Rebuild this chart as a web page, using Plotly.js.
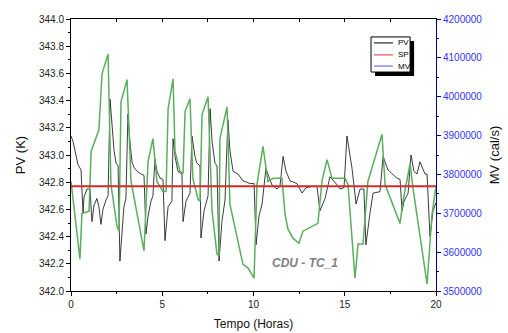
<!DOCTYPE html>
<html>
<head>
<meta charset="utf-8">
<script src="https://cdn.plot.ly/plotly-3.0.1.min.js"></script>
<style>html,body{margin:0;padding:0;background:#fff;}#chart{width:508px;height:333px;}</style>
</head>
<body>
<div id="chart"></div>
<script>
// Time (hours) for PV series
var pvTime = [0, 0.11, 0.38, 0.55, 0.66, 0.71, 0.88, 1.04, 1.15, 1.26,
  1.42, 1.53, 1.64, 1.75, 1.92, 2.03, 2.14, 2.25, 2.36, 2.47,
  2.58, 2.68, 2.79, 2.90, 3.01, 3.12, 3.23, 3.34, 3.45, 3.62,
  3.84, 4.00, 4.11, 4.22, 4.38, 4.49, 4.60, 4.71, 4.88, 5.04,
  5.15, 5.32, 5.53, 5.59, 5.70, 5.86, 6.08, 6.14, 6.30, 6.52,
  6.63, 6.79, 6.90, 7.07, 7.12, 7.29, 7.51, 7.62, 7.73, 7.89,
  8.00, 8.11, 8.27, 8.44, 8.60, 8.71, 8.88, 9.15, 9.42, 9.81,
  10.03, 10.14, 10.30, 10.47, 10.68, 10.79, 11.01, 11.29, 11.45, 11.62,
  11.78, 12.00, 12.38, 12.66, 12.88, 13.26, 13.48, 13.64, 13.92, 14.19,
  14.41, 14.58, 14.74, 14.96, 15.12, 15.40, 15.62, 15.84, 16.05, 16.16,
  16.38, 16.55, 16.93, 17.10, 17.37, 17.86, 18.03, 18.14, 18.25, 18.47,
  18.63, 18.79, 18.96, 19.12, 19.40, 19.51, 19.67, 19.84, 20.00];
// PV (K)
var pvValues = [343.14, 343.10, 342.93, 342.89, 342.57, 342.69, 342.75, 342.75, 342.51, 342.63,
  342.68, 342.62, 342.49, 342.60, 342.67, 342.70, 343.41, 343.21, 343.03, 342.94,
  342.92, 342.22, 342.44, 342.62, 342.68, 343.30, 343.10, 342.95, 342.91, 342.88,
  342.86, 342.85, 342.42, 342.55, 342.66, 342.70, 342.97, 342.88, 342.83, 342.82,
  342.37, 342.62, 342.66, 343.12, 342.99, 342.88, 342.86, 342.51, 342.66, 342.72,
  343.14, 342.99, 342.94, 342.92, 342.39, 342.59, 342.70, 343.34, 343.10, 342.94,
  342.92, 342.22, 342.51, 342.67, 343.26, 343.03, 342.88, 342.86, 342.81, 342.79,
  342.79, 342.34, 342.55, 342.64, 342.90, 342.86, 342.78, 342.75, 342.77, 342.99,
  342.88, 342.81, 342.79, 342.72, 342.76, 342.77, 342.77, 342.59, 342.68, 342.84,
  342.81, 342.78, 342.75, 342.76, 343.14, 342.90, 342.64, 342.75, 342.75, 342.34,
  342.57, 342.72, 342.73, 342.99, 342.89, 342.83, 342.82, 342.59, 342.66, 342.72,
  343.00, 342.88, 342.86, 342.95, 342.86, 342.86, 342.40, 342.59, 342.65];

// Time (hours) for MV series
var mvTime = [0, 0.49, 0.60, 0.99, 1.10, 1.53, 1.70, 2.03, 2.19, 2.52,
  2.63, 2.74, 3.07, 3.29, 4.00, 4.22, 4.49, 4.71, 5.04, 5.21,
  5.32, 5.59, 5.70, 5.97, 6.14, 6.25, 6.52, 6.68, 6.96, 7.07,
  7.18, 7.51, 7.73, 8.00, 8.11, 8.16, 8.55, 8.71, 9.42, 9.70,
  10.03, 10.19, 10.52, 10.79, 11.07, 11.56, 11.73, 11.89, 12.16, 12.49,
  12.71, 13.21, 13.53, 13.75, 14.03, 14.30, 15.01, 15.18, 15.56, 15.73,
  16.00, 16.27, 17.04, 17.21, 18.03, 18.19, 18.58, 18.74, 19.51, 19.78,
  20.00];
// MV (cal/s)
var mvValues = [3782000, 3582000, 3700000, 3705000, 3859000, 3915000, 4059000, 4110000, 3774000, 3667000,
  3654000, 3987000, 4044000, 3782000, 3603000, 3833000, 3892000, 3782000, 3756000, 3756000,
  3969000, 4046000, 3859000, 3808000, 3803000, 3962000, 3995000, 3790000, 3736000, 3731000,
  3954000, 4000000, 3705000, 3595000, 3590000, 3892000, 3974000, 3723000, 3569000, 3559000,
  3533000, 3774000, 3872000, 3782000, 3790000, 3790000, 3697000, 3659000, 3636000, 3623000,
  3654000, 3667000, 3674000, 3782000, 3838000, 3790000, 3790000, 3774000, 3533000, 3621000,
  3621000, 3782000, 3903000, 3774000, 3674000, 3731000, 3828000, 3764000, 3518000, 3697000,
  3769000];

// Setpoint (K)
var spTime = [0, 20];
var spValues = [342.77, 342.77];

var legendNames = ['PV', 'SP', 'MV'];
var legendColors = ['#000000', '#e03030', '#5050ff'];

var FONT = 'Liberation Sans, Arial, Helvetica, sans-serif';

var traces = [
  {x: mvTime, y: mvValues, yaxis: 'y2', type: 'scatter', mode: 'lines',
   line: {color: '#5cae5c', width: 1.5}, showlegend: false, hoverinfo: 'skip'},
  {x: pvTime, y: pvValues, type: 'scatter', mode: 'lines',
   line: {color: '#1a1a1a', width: 1}, opacity: 0.85, showlegend: false, hoverinfo: 'skip'},
  {x: spTime, y: spValues, xaxis: 'x2', type: 'scatter', mode: 'lines',
   line: {color: '#d42a2a', width: 2}, showlegend: false, hoverinfo: 'skip'}
];

// Manual legend (box with shadow)
var lx0 = 0.822, lx1 = 0.929, ly0 = 0.805, ly1 = 0.934;
var shapes = [
  {type: 'rect', xref: 'paper', yref: 'paper', x0: lx0 + 0.011, x1: lx1 + 0.011, y0: ly0 - 0.015, y1: ly1 - 0.015,
   fillcolor: '#000', line: {width: 0}},
  {type: 'rect', xref: 'paper', yref: 'paper', x0: lx0, x1: lx1, y0: ly0, y1: ly1,
   fillcolor: '#fff', line: {color: '#000', width: 1}}
];
var annotations = [
  {xref: 'paper', yref: 'paper', x: 0.641, y: 0.07, text: '<b><i>CDU - TC_1</i></b>', showarrow: false,
   font: {family: FONT, size: 12, color: '#808080'}}
];
var legendY = [0.912, 0.868, 0.827];
for (var i = 0; i < legendNames.length; i++) {
  shapes.push({type: 'line', xref: 'paper', yref: 'paper', x0: 0.830, x1: 0.882, y0: legendY[i], y1: legendY[i],
    line: {color: legendColors[i], width: 1}});
  annotations.push({xref: 'paper', yref: 'paper', x: 0.890, y: legendY[i], xanchor: 'left', yanchor: 'middle',
    text: legendNames[i], showarrow: false, font: {family: FONT, size: 8, color: '#000'}});
}

var layout = {
  width: 508, height: 333,
  margin: {l: 71, r: 72, t: 19, b: 42},
  paper_bgcolor: '#fff', plot_bgcolor: '#fff',
  font: {family: FONT, size: 10, color: '#222'},
  showlegend: false,
  xaxis: {
    range: [0, 20], dtick: 5, tick0: 0, ticks: 'outside', ticklen: 4, tickcolor: '#000',
    showline: true, linecolor: '#000', linewidth: 1, showgrid: false, zeroline: false,
    minor: {dtick: 2.5, ticks: 'outside', ticklen: 2, tickcolor: '#000'},
    tickfont: {size: 10, color: '#222'},
    title: {text: 'Tempo (Horas)', font: {size: 12, color: '#111'}, standoff: 10}
  },
  xaxis2: {
    range: [0, 20], overlaying: 'x', side: 'top', dtick: 2.5, tick0: 0, ticks: 'inside', ticklen: 3,
    tickcolor: '#000', showline: true, linecolor: '#000', linewidth: 1, showticklabels: false,
    showgrid: false, zeroline: false
  },
  yaxis: {
    range: [342, 344], dtick: 0.2, tick0: 342, tickformat: '.1f', ticks: 'outside', ticklen: 4,
    tickcolor: '#000', showline: true, linecolor: '#000', linewidth: 1, showgrid: false, zeroline: false,
    minor: {dtick: 0.1, ticks: 'outside', ticklen: 2, tickcolor: '#000'},
    tickfont: {size: 10, color: '#222'},
    title: {text: 'PV (K)', font: {size: 13, color: '#111'}, standoff: 10}
  },
  yaxis2: {
    range: [3500000, 4200000], dtick: 100000, tick0: 3500000, tickformat: 'd',
    overlaying: 'y', side: 'right', ticks: 'outside', ticklen: 4, tickcolor: '#000080',
    showline: true, linecolor: '#000080', linewidth: 1, showgrid: false, zeroline: false,
    minor: {dtick: 50000, ticks: 'outside', ticklen: 2, tickcolor: '#000080'},
    tickfont: {size: 10, color: '#3333ff'},
    title: {text: 'MV (cal/s)', font: {size: 13, color: '#111'}, standoff: 8}
  },
  shapes: shapes,
  annotations: annotations
};

Plotly.newPlot('chart', traces, layout, {staticPlot: true, displayModeBar: false});
</script>
</body>
</html>
